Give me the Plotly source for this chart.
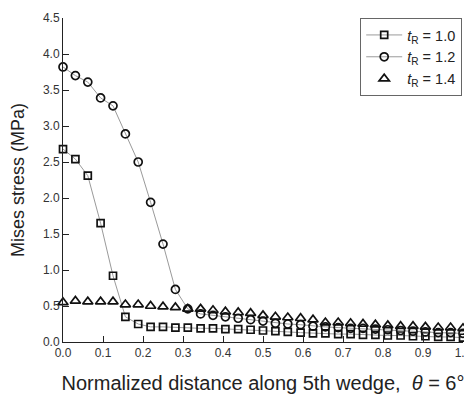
import plotly.graph_objects as go

x_pos = [0.0, 0.031, 0.062, 0.094, 0.125, 0.156, 0.188, 0.219, 0.25, 0.281,
         0.312, 0.344, 0.375, 0.406, 0.438, 0.469, 0.5, 0.531, 0.562, 0.594,
         0.625, 0.656, 0.688, 0.719, 0.75, 0.781, 0.812, 0.844, 0.875, 0.906,
         0.938, 0.969, 1.0]

s_t10 = [2.68, 2.54, 2.31, 1.65, 0.92, 0.35, 0.25, 0.21, 0.21, 0.20,
         0.20, 0.19, 0.19, 0.18, 0.18, 0.17, 0.16, 0.15, 0.14, 0.13,
         0.12, 0.12, 0.11, 0.11, 0.10, 0.10, 0.09, 0.09, 0.08, 0.08,
         0.07, 0.07, 0.06]

s_t12 = [3.82, 3.70, 3.61, 3.39, 3.28, 2.89, 2.50, 1.94, 1.36, 0.73,
         0.46, 0.39, 0.37, 0.35, 0.33, 0.31, 0.29, 0.26, 0.25, 0.24,
         0.22, 0.21, 0.20, 0.19, 0.19, 0.18, 0.17, 0.16, 0.15, 0.14,
         0.13, 0.13, 0.12]

s_t14 = [0.55, 0.57, 0.56, 0.56, 0.56, 0.52, 0.52, 0.50, 0.49, 0.48,
         0.46, 0.46, 0.44, 0.42, 0.41, 0.40, 0.37, 0.35, 0.34, 0.33,
         0.31, 0.27, 0.27, 0.26, 0.25, 0.24, 0.23, 0.22, 0.22, 0.21,
         0.20, 0.20, 0.19]

names = ["<i>t</i><sub>R</sub> = 1.0", "<i>t</i><sub>R</sub> = 1.2", "<i>t</i><sub>R</sub> = 1.4"]
x_ticks = [0.0, 0.1, 0.2, 0.3, 0.4, 0.5, 0.6, 0.7, 0.8, 0.9, 1.0]
y_ticks = [0.0, 0.5, 1.0, 1.5, 2.0, 2.5, 3.0, 3.5, 4.0, 4.5]

fig = go.Figure()
marker_line = dict(color="#111111", width=1.7)
fig.add_trace(go.Scatter(x=x_pos, y=s_t10, name=names[0], mode="lines+markers",
                         line=dict(color="#9a9a9a", width=1),
                         marker=dict(symbol="square-open", size=7, color="#111111", line=marker_line),
                         cliponaxis=False))
fig.add_trace(go.Scatter(x=x_pos, y=s_t12, name=names[1], mode="lines+markers",
                         line=dict(color="#9a9a9a", width=1),
                         marker=dict(symbol="circle-open", size=8, color="#111111", line=marker_line),
                         cliponaxis=False))
fig.add_trace(go.Scatter(x=x_pos, y=s_t14, name=names[2], mode="markers",
                         marker=dict(symbol="triangle-up-open", size=9, color="#111111", line=marker_line),
                         cliponaxis=False))

axis_common = dict(showline=True, linecolor="#222222", linewidth=1, ticks="inside",
                   ticklen=6, tickcolor="#222222", showgrid=False, zeroline=False,
                   tickfont=dict(family="Liberation Sans, Arial", size=12, color="#333333"),
                   mirror=False, automargin=False)

fig.update_layout(
    width=464, height=392,
    margin=dict(l=55, r=9, t=10, b=58, autoexpand=False),
    paper_bgcolor="white", plot_bgcolor="white",
    font=dict(family="Liberation Sans, Arial", color="#222222"),
    xaxis=dict(range=[0, 1], tickvals=x_ticks, ticktext=[f"{v:.1f}" for v in x_ticks],
               title=dict(text="Normalized distance along 5th wedge,  <i>θ</i> = 6°",
                          font=dict(size=20, color="#222222"), standoff=16),
               **axis_common),
    yaxis=dict(range=[0, 4.5], tickvals=y_ticks, ticktext=[f"{v:.1f}" for v in y_ticks],
               title=dict(text="Mises stress (MPa)", font=dict(size=18, color="#222222"), standoff=14),
               **axis_common),
    legend=dict(x=0.998, y=1.0, xanchor="right", yanchor="top",
                bordercolor="#666666", borderwidth=1, bgcolor="white",
                font=dict(family="Liberation Sans, Arial", size=14.5, color="#222222"),
                tracegroupgap=0, itemwidth=36),
    showlegend=True,
)

fig.write_html("out.html")
